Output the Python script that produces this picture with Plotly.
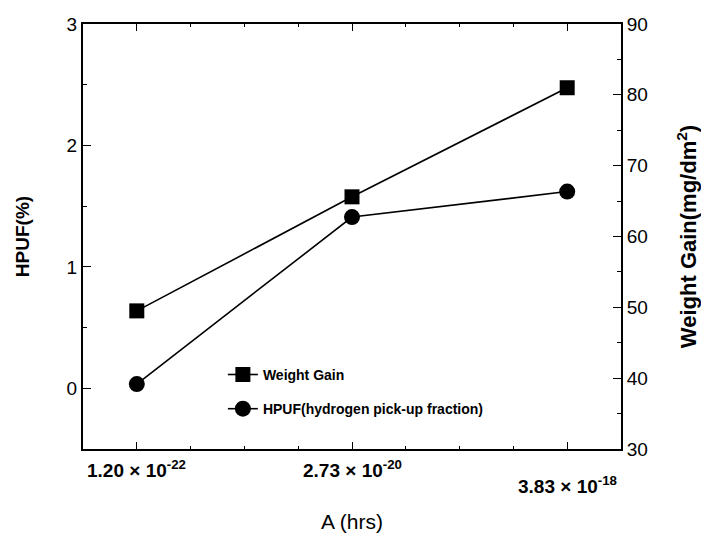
import plotly.graph_objects as go

x_pos = [0, 1, 2]
x_labels = ["1.20 × 10<sup>-22</sup>", "2.73 × 10<sup>-20</sup>", "3.83 × 10<sup>-18</sup>"]
label_shift = [0, 0, -16]
weight_gain = [49.5, 65.6, 81.0]
hpuf = [0.035, 1.41, 1.62]

FONT = "Liberation Sans, Arial, sans-serif"

fig = go.Figure()
fig.add_trace(go.Scatter(
    x=x_pos, y=weight_gain, yaxis="y2", name="<b>Weight Gain</b>",
    mode="lines+markers", legendgroup="a",
    line=dict(color="black", width=1.6),
    marker=dict(symbol="square", size=15, color="black"),
))
fig.add_trace(go.Scatter(
    x=x_pos, y=hpuf, name="<b>HPUF(hydrogen pick-up fraction)</b>",
    mode="lines+markers", legendgroup="b",
    line=dict(color="black", width=1.6),
    marker=dict(symbol="circle", size=16, color="black"),
))

for xv, lab, sh in zip(x_pos, x_labels, label_shift):
    fig.add_annotation(
        x=xv, y=0, xref="x", yref="paper", text="<b>" + lab + "</b>",
        showarrow=False, yanchor="top", yshift=-6 + sh,
        font=dict(family=FONT, size=19, color="black"),
    )

fig.update_layout(
    width=701, height=545,
    margin=dict(l=83, r=80, t=24, b=96),
    paper_bgcolor="white", plot_bgcolor="white",
    font=dict(family=FONT, color="black"),
    showlegend=True,
    legend=dict(
        x=0.26, y=0.212, xanchor="left", yanchor="top",
        bgcolor="rgba(0,0,0,0)", font=dict(size=14, family=FONT, color="black"),
        tracegroupgap=13, traceorder="grouped",
    ),
    xaxis=dict(
        range=[-0.25, 2.25], tickvals=x_pos, ticktext=["", "", ""],
        showgrid=False, zeroline=False, automargin=False,
        showline=True, linecolor="black", linewidth=2, mirror="ticks",
        ticks="inside", ticklen=7, tickcolor="black", tickwidth=1,
        minor=dict(dtick=0.25, ticks="inside", ticklen=3, tickcolor="black"),
        title=dict(text="A (hrs)", font=dict(size=21, family=FONT), standoff=62),
    ),
    yaxis=dict(
        range=[-0.5, 3], tickvals=[0, 1, 2, 3],
        showgrid=False, zeroline=False, automargin=False,
        showline=True, linecolor="black", linewidth=2,
        ticks="inside", ticklen=8, tickcolor="black", tickwidth=1,
        minor=dict(dtick=0.5, ticks="inside", ticklen=4, tickcolor="black"),
        tickfont=dict(size=19, family=FONT),
        title=dict(text="<b>HPUF(%)</b>", font=dict(size=19, family=FONT), standoff=32),
    ),
    yaxis2=dict(
        range=[30, 90], tickvals=[30, 40, 50, 60, 70, 80, 90],
        overlaying="y", side="right", automargin=False,
        showgrid=False, zeroline=False,
        showline=True, linecolor="black", linewidth=2,
        ticks="inside", ticklen=8, tickcolor="black", tickwidth=1,
        minor=dict(dtick=5, ticks="inside", ticklen=4, tickcolor="black"),
        tickfont=dict(size=19, family=FONT),
        title=dict(text="<b>Weight Gain(mg/dm<sup>2</sup>)</b>", font=dict(size=22, family=FONT), standoff=34),
    ),
)

fig.write_html("out.html")
